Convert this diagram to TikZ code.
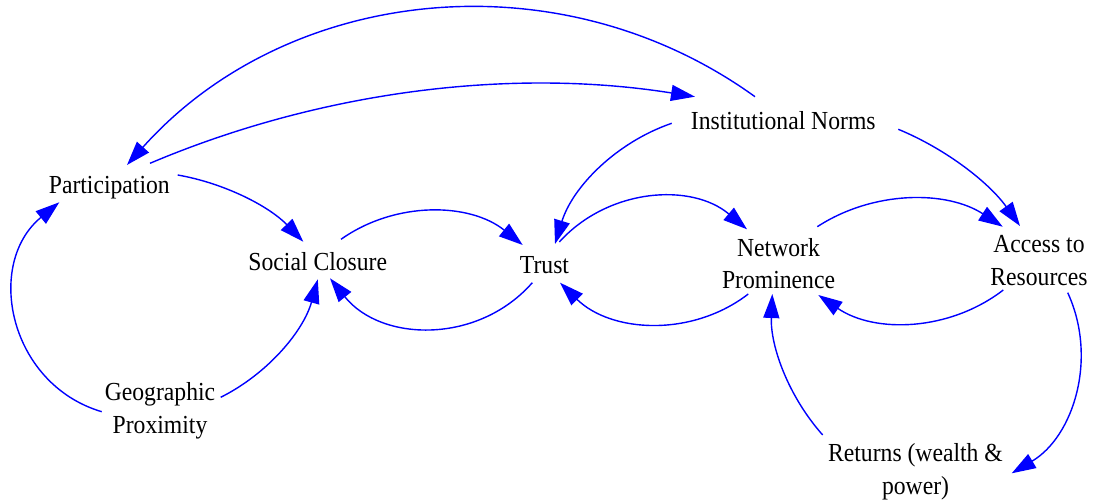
\documentclass[tikz,border=0pt]{standalone}
\usepackage{fontspec}
\setmainfont{Liberation Serif}[FakeStretch=0.91]
\usetikzlibrary{arrows.meta,calc}
\definecolor{linkblue}{RGB}{0,0,255}
% uniform line strut so every node centre sits at the same height relative to its baselines
\newcommand\lnstrut{\rule[-6pt]{0pt}{29pt}}
\tikzset{
  var/.style={inner sep=0pt, align=center, font=\fontsize{26}{32.5}\selectfont},
  link/.style={draw=linkblue, line width=1.4pt, -{Triangle[length=24pt,width=16pt]}},
}
\begin{document}
\begin{tikzpicture}[x=1pt,y=1pt]
\fill[white] (0,-502) rectangle (1094,0);
\useasboundingbox (0,-502) rectangle (1094,0);

% variables
\node[var] (part)  at (109.3,-185.2) {\lnstrut Participation};
\node[var] (inst)  at (783.3,-120.8) {\lnstrut Institutional Norms};
\node[var] (soc)   at (317.8,-261.8) {\lnstrut Social Closure};
\node[var] (trust) at (544.5,-265.2) {\lnstrut Trust};
\node[var] (net)   at (778.5,-264.0) {\lnstrut Network\\\lnstrut Prominence};
\node[var] (acc)   at (1039.0,-260.5) {\lnstrut Access to\\\lnstrut Resources};
\node[var] (geo)   at (160.0,-408.5) {\lnstrut Geographic\\\lnstrut Proximity};
\node[var] (ret)   at (915.5,-469.3) {\lnstrut Returns (wealth \&\\\lnstrut power)};

% causal links (circular-arc style connectors)
\draw[link] ($(inst)+(-28.3,24.1)$) to[bend right=42, looseness=0.977] ($(part)+(17.7,20.2)$);
\draw[link] ($(part)+(40.7,21.9)$) to[bend left=16, looseness=0.868] ($(inst)+(-88.3,24.1)$);
\draw[link] ($(inst)+(-111.6,-2.5)$) to[bend right=27, looseness=0.90] ($(trust)+(10.5,21.2)$);
\draw[link] ($(inst)+(115,-8.5)$) to[bend left=16, looseness=0.868] ($(acc)+(-19,34.5)$);
\draw[link] ($(part)+(68.4,10.2)$) to[bend left=18, looseness=0.873] ($(soc)+(-14.5,20.1)$);
\draw[link] ($(soc)+(23.2,22.5)$) to[bend left=37, looseness=0.947] ($(trust)+(-21.8,20.2)$);
\draw[link] ($(trust)+(-12.2,-17.5)$) to[bend left=50, looseness=1.036] ($(soc)+(12.2,-16.5)$);
\draw[link] ($(trust)+(14.8,23.2)$) to[bend left=44, looseness=0.99] ($(net)+(-31.5,34.7)$);
\draw[link] ($(net)+(-30.2,-30)$) to[bend left=41, looseness=0.97] ($(trust)+(15.5,-17.5)$);
\draw[link] ($(net)+(38.8,37.3)$) to[bend left=33, looseness=0.926] ($(acc)+(-36.3,33.8)$);
\draw[link] ($(acc)+(-35.7,-29.5)$) to[bend left=36, looseness=0.941] ($(net)+(39.8,-31)$);
\draw[link] ($(geo)+(-58.3,-3.2)$) to[bend left=62, looseness=1.159] ($(part)+(-50,-17.1)$);
\draw[link] ($(geo)+(60.7,11.2)$) to[bend right=24, looseness=0.89] ($(soc)+(0,-17.5)$);
\draw[link] ($(ret)+(-92.8,34.3)$) to[bend left=22, looseness=0.884] ($(net)+(-6.2,-30)$);
\draw[link] ($(acc)+(28.7,-32.2)$) to[bend left=42, looseness=0.977] ($(ret)+(96.2,-4)$);
\end{tikzpicture}
\end{document}
